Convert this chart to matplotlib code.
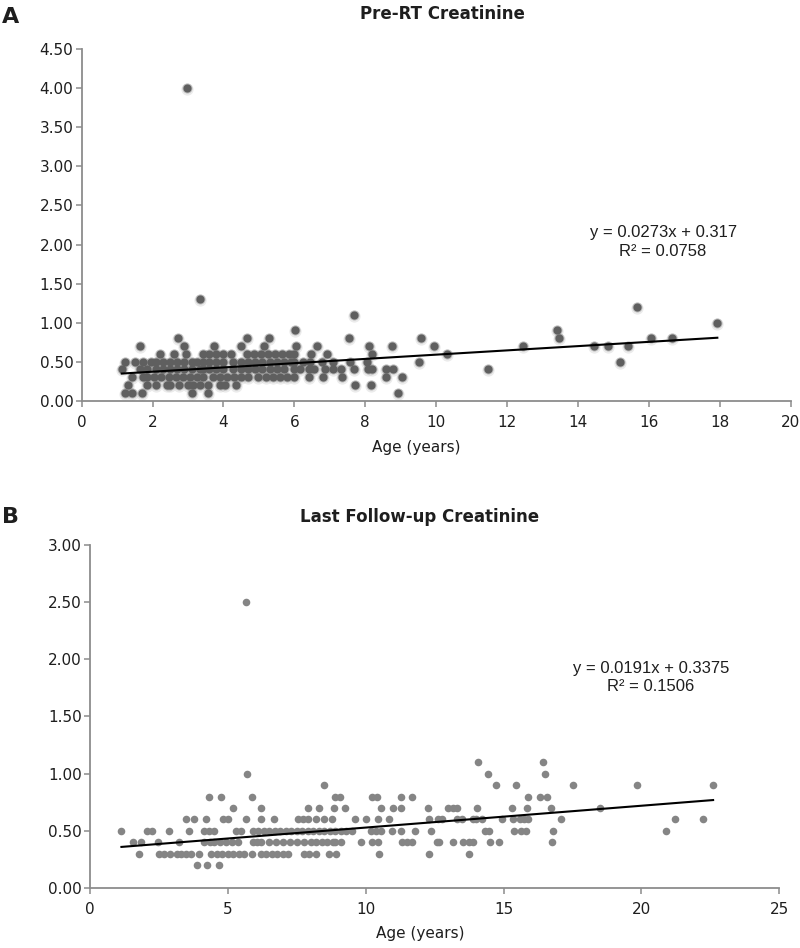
import numpy as np
import matplotlib
matplotlib.use("Agg")
import matplotlib.pyplot as plt

# ---- Panel A: Pre-RT creatinine (age in years per creatinine level) ----
a_age_010 = [1.21, 1.42, 1.69, 3.12, 3.55, 8.92]
a_age_020 = [1.32, 1.85, 2.1, 2.4, 2.5, 2.75, 3.0, 3.15, 3.33, 3.55, 3.9, 4.04, 4.36, 7.71, 8.15]
a_age_030 = [1.41, 1.74, 1.85, 2.05, 2.25, 2.45, 2.65, 2.85, 3.05, 3.25, 3.42, 3.7, 3.9, 4.1,
             4.3, 4.5, 4.7, 4.97, 5.2, 5.4, 5.6, 5.8, 6.0, 6.4, 6.8, 7.33, 8.57, 9.04]
a_age_040 = [1.13, 1.64, 1.85, 2.1, 2.3, 2.5, 2.7, 2.9, 3.1, 3.33, 3.42, 3.6, 3.8, 4.0, 4.27,
             4.5, 4.7, 4.9, 5.1, 5.3, 5.5, 5.7, 6.0, 6.15, 6.4, 6.55, 6.85, 7.1, 7.32, 7.67,
             8.07, 8.2, 8.57, 8.78, 11.47]
a_age_050 = [1.22, 1.51, 1.74, 1.95, 2.1, 2.3, 2.5, 2.7, 2.9, 3.1, 3.25, 3.42, 3.6, 3.8, 4.0,
             4.27, 4.5, 4.7, 4.9, 5.1, 5.3, 5.5, 5.7, 5.9, 6.0, 6.24, 6.43, 6.79, 7.1, 7.58,
             8.05, 9.51, 15.19]
a_age_060 = [2.21, 2.61, 2.94, 3.42, 3.6, 3.8, 4.0, 4.22, 4.65, 4.85, 5.05, 5.25, 5.45, 5.65,
             5.85, 6.0, 6.46, 6.92, 8.18, 10.31]
a_age_070 = [1.64, 2.89, 3.73, 4.5, 5.14, 6.04, 6.63, 8.1, 8.75, 9.93, 12.44, 14.46, 14.85, 15.42]
a_age_080 = [2.73, 4.65, 5.29, 7.54, 9.56, 13.47, 16.07, 16.64]
a_age_090 = [6.03, 13.41]
a_age_100 = [17.93]
a_age_110 = [7.67]
a_age_120 = [15.67]
a_age_130 = [3.35]
a_age_400 = [2.96]

a_levels = [0.1, 0.2, 0.3, 0.4, 0.5, 0.6, 0.7, 0.8, 0.9, 1.0, 1.1, 1.2, 1.3, 4.0]
a_groups = [a_age_010, a_age_020, a_age_030, a_age_040, a_age_050, a_age_060, a_age_070,
            a_age_080, a_age_090, a_age_100, a_age_110, a_age_120, a_age_130, a_age_400]
a_slope, a_icept = 0.0273, 0.317
a_eq = "y = 0.0273x + 0.317\nR² = 0.0758"

# ---- Panel B: last follow-up creatinine ----
b_age_020 = [3.89, 4.25, 4.69]
b_age_030 = [1.79, 2.5, 2.7, 2.9, 3.14, 3.3, 3.5, 3.68, 3.96, 4.4, 4.6, 4.8, 5.0, 5.2, 5.4,
             5.6, 5.86, 6.2, 6.4, 6.6, 6.8, 7.0, 7.19, 7.75, 7.95, 8.19, 8.67, 8.94, 10.5,
             12.31, 13.76]
b_age_040 = [1.57, 1.85, 2.46, 3.24, 4.13, 4.35, 4.5, 4.7, 4.95, 5.15, 5.37, 5.92, 6.07, 6.22,
             6.5, 6.75, 7.0, 7.25, 7.5, 7.75, 8.0, 8.2, 8.4, 8.6, 8.8, 8.9, 9.1, 9.82, 10.22,
             10.45, 11.3, 11.5, 11.68, 12.57, 12.67, 13.18, 13.54, 13.76, 13.9, 14.52, 14.84,
             16.76]
b_age_050 = [1.14, 2.05, 2.26, 2.86, 3.59, 4.12, 4.3, 4.5, 5.31, 5.48, 5.92, 6.1, 6.3, 6.5,
             6.7, 6.9, 7.1, 7.3, 7.5, 7.7, 7.9, 8.1, 8.3, 8.5, 8.7, 8.9, 9.1, 9.3, 9.5, 10.19,
             10.36, 10.57, 10.97, 11.27, 11.78, 12.36, 14.34, 14.48, 15.39, 15.62, 15.83,
             16.81, 20.9]
b_age_060 = [3.48, 3.77, 4.21, 4.81, 5.0, 5.64, 6.22, 6.68, 7.55, 7.71, 7.92, 8.21, 8.5, 8.77,
             9.61, 10.0, 10.45, 10.86, 12.31, 12.63, 12.75, 13.32, 13.48, 13.9, 14.0, 14.2,
             14.96, 15.36, 15.6, 15.75, 15.9, 17.07, 21.2, 22.22]
b_age_070 = [5.17, 6.2, 7.9, 8.29, 8.84, 9.26, 10.56, 10.99, 11.27, 12.27, 13.0, 13.18, 13.32,
             14.03, 15.29, 15.85, 16.71, 18.51]
b_age_080 = [4.31, 4.76, 5.88, 8.88, 9.06, 10.24, 10.42, 11.27, 11.68, 15.88, 16.32, 16.58]
b_age_090 = [8.49, 14.72, 15.46, 17.52, 19.84, 22.6]
b_age_100 = [5.71, 14.42, 16.51]
b_age_110 = [14.07, 16.43]
b_age_250 = [5.65]

b_levels = [0.2, 0.3, 0.4, 0.5, 0.6, 0.7, 0.8, 0.9, 1.0, 1.1, 2.5]
b_groups = [b_age_020, b_age_030, b_age_040, b_age_050, b_age_060, b_age_070, b_age_080,
            b_age_090, b_age_100, b_age_110, b_age_250]
b_slope, b_icept = 0.0191, 0.3375
b_eq = "y = 0.0191x + 0.3375\nR² = 0.1506"


def flatten(levels, groups):
    xs, ys = [], []
    for lev, ages in zip(levels, groups):
        xs += ages
        ys += [lev] * len(ages)
    return np.array(xs), np.array(ys)


AXIS_C = "#8c8c8c"
TXT_C = "#1e1e1e"


def style_axes(ax):
    for s in ["top", "right"]:
        ax.spines[s].set_visible(False)
    for s in ["left", "bottom"]:
        ax.spines[s].set_color(AXIS_C)
        ax.spines[s].set_linewidth(1.3)
    ax.tick_params(direction="out", length=4, width=1.1, color=AXIS_C,
                   labelsize=11, labelcolor=TXT_C)
    ax.tick_params(axis="y", pad=2)
    ax.tick_params(axis="x", pad=6)


fig = plt.figure(figsize=(8, 9.48), dpi=100)

# Panel A (soft shadowed markers)
axA = fig.add_axes([0.1021, 0.5773, 0.8863, 0.3707])
xa, ya = flatten(a_levels, a_groups)
axA.scatter(xa, ya - 0.012, s=78, color="#b0b0b0", alpha=0.25, linewidths=0, zorder=2)
axA.scatter(xa, ya, s=52, color="#7a7a7a", alpha=0.45, linewidths=0, zorder=3)
axA.scatter(xa, ya, s=34, color="#5f5f5f", linewidths=0, zorder=4)
lx = np.array([xa.min(), xa.max()])
axA.plot(lx, a_slope * lx + a_icept, color="black", lw=1.5, zorder=5)
axA.set_xlim(0, 20)
axA.set_ylim(0, 4.5)
axA.set_xticks(np.arange(0, 21, 2))
axA.set_yticks(np.arange(0, 4.51, 0.5))
axA.yaxis.set_major_formatter(matplotlib.ticker.FormatStrFormatter("%.2f"))
style_axes(axA)
axA.set_xlabel("Age (years)", fontsize=11, color=TXT_C)
axA.xaxis.set_label_coords(0.4715, -0.112)
axA.text(16.4, 2.03, a_eq, ha="center", va="center", fontsize=12,
         family="Liberation Sans", color=TXT_C, linespacing=1.3)

# Panel B
axB = fig.add_axes([0.1125, 0.0633, 0.8616, 0.3618])
xb, yb = flatten(b_levels, b_groups)
axB.scatter(xb, yb, s=30, color="#858585", linewidths=0, zorder=3)
lx = np.array([xb.min(), xb.max()])
axB.plot(lx, b_slope * lx + b_icept, color="black", lw=1.5, zorder=5)
axB.set_xlim(0, 25)
axB.set_ylim(0, 3.0)
axB.set_xticks(np.arange(0, 26, 5))
axB.set_yticks(np.arange(0, 3.01, 0.5))
axB.yaxis.set_major_formatter(matplotlib.ticker.FormatStrFormatter("%.2f"))
style_axes(axB)
axB.set_xlabel("Age (years)", fontsize=11, color=TXT_C)
axB.xaxis.set_label_coords(0.479, -0.111)
axB.text(20.35, 1.84, b_eq, ha="center", va="center", fontsize=12,
         family="Liberation Sans", color=TXT_C, linespacing=1.3)

# Titles and panel letters
fig.text(442 / 800, 1 - 14 / 948, "Pre-RT Creatinine", ha="center", va="center",
         fontsize=12, fontweight="bold", color=TXT_C)
fig.text(420 / 800, 1 - 517 / 948, "Last Follow-up Creatinine", ha="center", va="center",
         fontsize=12, fontweight="bold", color=TXT_C)
fig.text(2 / 800, 1 - 17 / 948, "A", ha="left", va="center", fontsize=16,
         fontweight="bold", color=TXT_C)
fig.text(2 / 800, 1 - 517 / 948, "B", ha="left", va="center", fontsize=16,
         fontweight="bold", color=TXT_C)

fig.savefig("out.png", dpi=100)
